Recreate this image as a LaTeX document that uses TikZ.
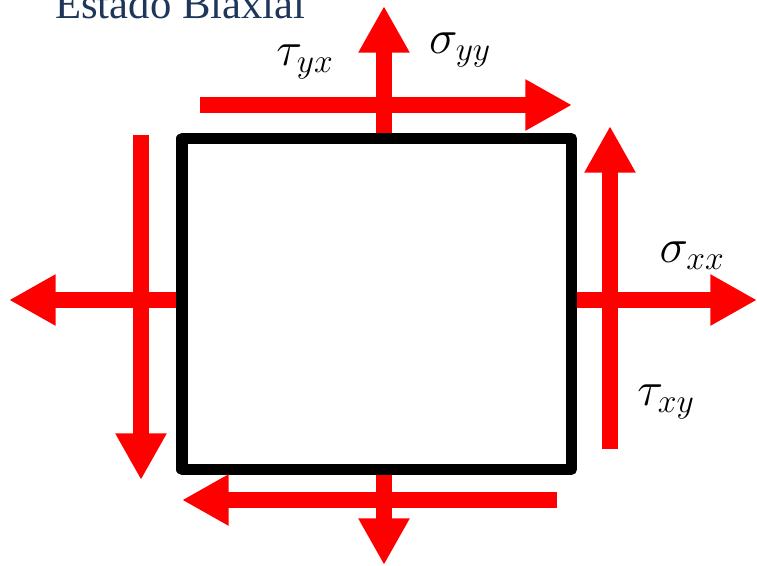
\documentclass[tikz,border=0pt]{standalone}
\usepackage{fix-cm}
\usepackage{amsmath, amssymb}
\usepackage{fontspec}
\newfontfamily\titfont{Liberation Serif}
\usetikzlibrary{arrows.meta}
\definecolor{rojo}{RGB}{255,0,0}
\definecolor{azultit}{RGB}{30,54,90}

\begin{document}
\begin{tikzpicture}[x=0.75pt, y=-0.75pt,
    flecha/.style={draw=rojo, line width=12pt, -{Triangle[length=35pt, width=36pt]}},
    caja/.style={draw=black, line width=8.6pt, line join=round, inner sep=0pt,
        minimum width=292pt, minimum height=248pt},
    etiq/.style={inner sep=0pt, font=\fontsize{36}{40}\selectfont}]
    \useasboundingbox (0,0) rectangle (757,565);

    % --- 1. Elemento y puntas libres de las flechas ---
    \node[caja] (elem) at (376.75,304) {};
    \coordinate (sN) at (384,6);
    \coordinate (sS) at (384,565);
    \coordinate (sE) at (757,300);
    \coordinate (sW) at (9,300);
    \coordinate (tNa) at (200,105);
    \coordinate (tNb) at (572,105);
    \coordinate (tSa) at (557,500);
    \coordinate (tSb) at (182,500);
    \coordinate (tEa) at (610,449);
    \coordinate (tEb) at (610,126);
    \coordinate (tWa) at (141,135);
    \coordinate (tWb) at (141,480);

    % --- 2. Esfuerzos normales ---
    \draw[flecha] (elem.north -| sN) -- (sN);
    \draw[flecha] (elem.south -| sS) -- (sS);
    \draw[flecha] (elem.east |- sE) -- (sE);
    \draw[flecha] (elem.west |- sW) -- (sW);

    % --- 3. Esfuerzos cortantes ---
    \draw[flecha] (tNa) -- (tNb);
    \draw[flecha] (tSa) -- (tSb);
    \draw[flecha] (tEa) -- (tEb);
    \draw[flecha] (tWa) -- (tWb);

    % --- 4. Etiquetas ---
    \node[anchor=base west, text=azultit, inner sep=0pt,
        font=\titfont\fontsize{32}{36}\selectfont] (titulo) at (55,18) {Estado Biaxial};
    \node[etiq] (tyx) at (305,62) {$\tau_{yx}$};
    \node[etiq] (syy) at (460,50) {$\sigma_{yy}$};
    \node[etiq] (sxx) at (692,256) {$\sigma_{xx}$};
    \node[etiq] (txy) at (666,402) {$\tau_{xy}$};
\end{tikzpicture}
\end{document}
